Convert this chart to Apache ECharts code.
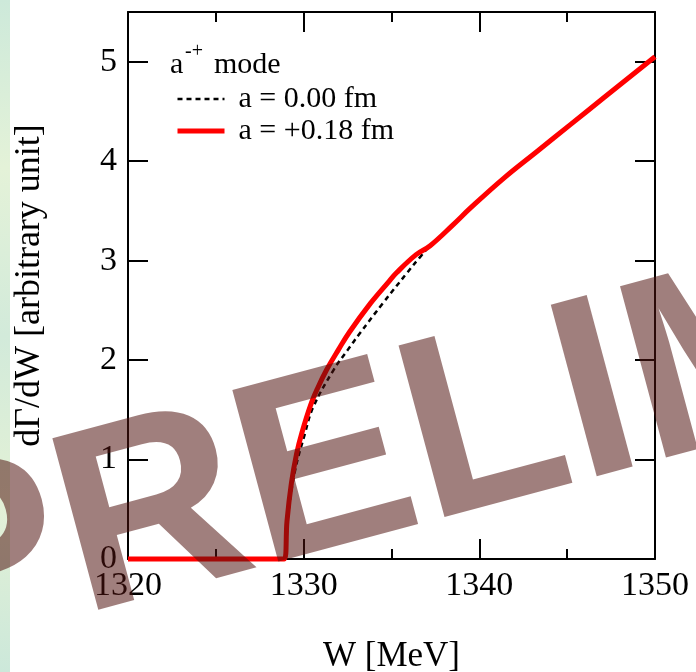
<!DOCTYPE html>
<html>
<head>
<meta charset="utf-8">
<script src="https://cdn.jsdelivr.net/npm/echarts@6/dist/echarts.min.js"></script>
<style>
html, body { margin: 0; padding: 0; background: #fff; }
#main { width: 696px; height: 672px; }
</style>
</head>
<body>
<div id="main"></div>
<script>
// a = 0.00 fm (dashed)
var W_a000 = [1320, 1328.9, 1329.1, 1329.5, 1330.07, 1330.55, 1331.7, 1332.5, 1333.2, 1334.5, 1335.9, 1336.6, 1337.2, 1338.5, 1339.5, 1341.4, 1343.3, 1345.2, 1347.1, 1350];
var G_a000 = [0, 0, 0.42, 0.88, 1.26, 1.53, 1.9, 2.1, 2.27, 2.57, 2.88, 3.03, 3.15, 3.36, 3.53, 3.83, 4.1, 4.37, 4.64, 5.05];
// a = +0.18 fm (red)
var W_a018 = [1320, 1328.9, 1329.05, 1329.3, 1329.6, 1329.9, 1330.4, 1330.8, 1331.3, 1332.0, 1332.6, 1333.8, 1334.8, 1335.3, 1336.4, 1337.2, 1338.5, 1339.5, 1341.4, 1343.3, 1345.2, 1347.1, 1350];
var G_a018 = [0, 0, 0.38, 0.76, 1.06, 1.27, 1.55, 1.72, 1.9, 2.11, 2.28, 2.57, 2.78, 2.88, 3.06, 3.15, 3.36, 3.53, 3.83, 4.1, 4.37, 4.64, 5.05];

var legendNames = ['a = 0.00 fm', 'a = +0.18 fm'];

function pairs(xs, ys) {
	var out = [];
	for (var i = 0; i < xs.length; i++) out.push([xs[i], ys[i]]);
	return out;
}

var serif = 'Liberation Serif';
var tickLine = { color: '#000', width: 2 };

var dom = document.getElementById('main');
var myChart = echarts.init(dom);

var xBase = {
	type: 'value', min: 1320, max: 1350, interval: 10,
	axisLine: { onZero: false, lineStyle: tickLine },
	axisTick: { inside: true, length: 20, lineStyle: tickLine },
	minorTick: { show: true, splitNumber: 2, length: 10, lineStyle: tickLine },
	splitLine: { show: false }
};
var yBase = {
	type: 'value', min: 0, max: 5.5, interval: 1,
	axisLine: { onZero: false, lineStyle: tickLine },
	axisTick: { inside: true, length: 20, lineStyle: tickLine },
	splitLine: { show: false }
};

var option = {
	backgroundColor: '#fff',
	animation: false,
	grid: { left: 128, right: 41, top: 12, bottom: 113, containLabel: false, outerBoundsMode: 'none' },
	legend: {
		data: [
			{ name: legendNames[0], itemStyle: { opacity: 0 }, lineStyle: { width: 2.5, type: [5, 4], color: '#000' } },
			{ name: legendNames[1], itemStyle: { opacity: 0 }, lineStyle: { width: 5, color: '#ff0000' } }
		],
		orient: 'vertical',
		left: 175, top: 84, padding: 0,
		itemWidth: 47, itemHeight: 14, itemGap: 2,
		textStyle: { fontFamily: serif, fontSize: 30, color: '#000', lineHeight: 30, padding: [0, 0, 0, 9] }
	},
	xAxis: [
		echarts.util.merge({
			position: 'bottom',
			name: 'W [MeV]', nameLocation: 'middle', nameGap: 80,
			nameTextStyle: { fontFamily: serif, fontSize: 35, color: '#000' },
			axisLabel: {
				margin: 10, fontFamily: serif, fontSize: 34, color: '#000',
				formatter: function (v) { return String(v); }
			}
		}, xBase, true),
		echarts.util.merge({ position: 'top', axisLabel: { show: false } }, xBase, true)
	],
	yAxis: [
		echarts.util.merge({
			position: 'left',
			name: 'd\u0393/dW [arbitrary unit]', nameLocation: 'middle', nameGap: 80,
			nameTextStyle: { fontFamily: serif, fontSize: 36, color: '#000' },
			axisLabel: {
				margin: 11, fontFamily: serif, fontSize: 34, color: '#000',
				formatter: function (v) { return v % 1 === 0 ? String(v) : ''; }
			}
		}, yBase, true),
		echarts.util.merge({ position: 'right', axisLabel: { show: false } }, yBase, true)
	],
	graphic: [
		{
			type: 'rect', left: 0, top: 0, z: -10,
			shape: { width: 10, height: 672 },
			style: {
				fill: new echarts.graphic.LinearGradient(0, 0, 0, 1, [
					{ offset: 0, color: '#cde9da' },
					{ offset: 0.25, color: '#e4f2d8' },
					{ offset: 0.5, color: '#d2eada' },
					{ offset: 0.75, color: '#e3f1d6' },
					{ offset: 1, color: '#cce8da' }
				])
			}
		},
		{ type: 'text', x: 170, y: 80, style: { text: 'a', font: '30px "Liberation Serif"', fill: '#000', verticalAlign: 'bottom' } },
		{ type: 'text', x: 185, y: 62, style: { text: '-+', font: '20px "Liberation Serif"', fill: '#000', verticalAlign: 'bottom' } },
		{ type: 'text', x: 214, y: 80, style: { text: 'mode', font: '30px "Liberation Serif"', fill: '#000', verticalAlign: 'bottom' } },
		{
			type: 'text', x: -103, y: 590, rotation: 15 * Math.PI / 180, z: 100,
			style: {
				text: 'PRELIMINARY',
				font: 'bold 258px "Liberation Sans"',
				fill: 'rgba(80,18,15,0.54)',
				align: 'left', verticalAlign: 'middle'
			}
		}
	],
	series: [
		{
			name: legendNames[0], type: 'line', xAxisIndex: 0, yAxisIndex: 0,
			data: pairs(W_a000, G_a000),
			symbol: 'none', smooth: 0.4, clip: false, z: 3,
			lineStyle: { color: '#000', width: 2.5, type: [5, 4] },
			itemStyle: { color: '#000' }
		},
		{
			name: legendNames[1], type: 'line', xAxisIndex: 0, yAxisIndex: 0,
			data: pairs(W_a018, G_a018),
			symbol: 'none', smooth: 0.4, clip: false, z: 4,
			lineStyle: { color: '#ff0000', width: 5 },
			itemStyle: { color: '#ff0000' }
		}
	]
};

myChart.setOption(option, true);
</script>
</body>
</html>
